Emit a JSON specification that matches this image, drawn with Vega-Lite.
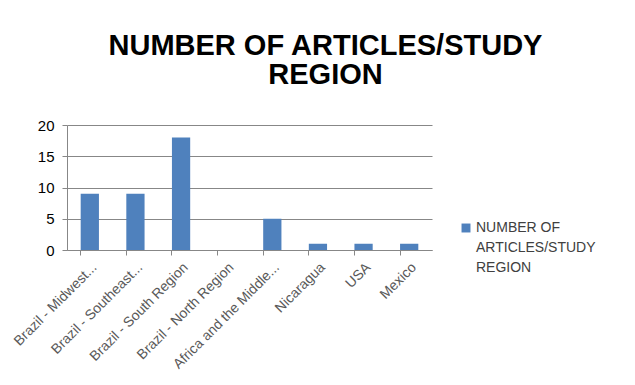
{
  "$schema": "https://vega.github.io/schema/vega-lite/v6.json",
  "autosize": "none",
  "width": 365,
  "height": 125,
  "padding": {"left": 67, "top": 125, "right": 203, "bottom": 135},
  "background": "white",
  "title": {
    "text": ["NUMBER OF ARTICLES/STUDY", "REGION"],
    "font": "Liberation Sans",
    "fontSize": 29,
    "fontWeight": "bold",
    "color": "#000000",
    "anchor": "middle",
    "dx": 76,
    "lineHeight": 29,
    "offset": 28
  },
  "data": {
    "values": [
      {"region": "Brazil - Midwest...", "articles": 9, "series": "NUMBER OF ARTICLES/STUDY REGION"},
      {"region": "Brazil - Southeast...", "articles": 9, "series": "NUMBER OF ARTICLES/STUDY REGION"},
      {"region": "Brazil - South Region", "articles": 18, "series": "NUMBER OF ARTICLES/STUDY REGION"},
      {"region": "Brazil - North Region", "articles": 0, "series": "NUMBER OF ARTICLES/STUDY REGION"},
      {"region": "Africa and the Middle...", "articles": 5, "series": "NUMBER OF ARTICLES/STUDY REGION"},
      {"region": "Nicaragua", "articles": 1, "series": "NUMBER OF ARTICLES/STUDY REGION"},
      {"region": "USA", "articles": 1, "series": "NUMBER OF ARTICLES/STUDY REGION"},
      {"region": "Mexico", "articles": 1, "series": "NUMBER OF ARTICLES/STUDY REGION"}
    ]
  },
  "mark": {"type": "bar", "strokeWidth": 0},
  "encoding": {
    "x": {
      "field": "region",
      "type": "nominal",
      "sort": null,
      "scale": {"paddingInner": 0.6, "paddingOuter": 0.3},
      "axis": {
        "title": null,
        "labelAngle": -45,
        "labelAlign": "right",
        "labelBaseline": "top",
        "labelFont": "Liberation Sans",
        "labelFontSize": 14,
        "labelColor": "#595959",
        "labelPadding": 5,
        "labelLimit": 200,
        "bandPosition": 0,
        "ticks": true,
        "tickSize": 5,
        "tickColor": "#878787",
        "domainColor": "#878787",
        "grid": false,
        "labelFlush": false
      }
    },
    "y": {
      "field": "articles",
      "type": "quantitative",
      "scale": {"domain": [0, 20]},
      "axis": {
        "title": null,
        "values": [0, 5, 10, 15, 20],
        "labelFont": "Liberation Sans",
        "labelFontSize": 15,
        "labelColor": "#000000",
        "labelPadding": 8,
        "tickSize": 5,
        "tickColor": "#878787",
        "domainColor": "#878787",
        "gridColor": "#878787",
        "grid": true
      }
    },
    "color": {
      "field": "series",
      "type": "nominal",
      "scale": {"range": ["#4F81BD"]},
      "legend": {
        "title": null,
        "orient": "none",
        "legendX": 392,
        "legendY": 96,
        "symbolType": "square",
        "symbolSize": 80,
        "symbolStrokeWidth": 0,
        "labelExpr": "['NUMBER OF', 'ARTICLES/STUDY', 'REGION']",
        "labelFont": "Liberation Sans",
        "labelFontSize": 14,
        "labelColor": "#404040",
        "labelBaseline": "top",
        "labelOffset": 3,
        "labelLimit": 200,
        "encode": {"labels": {"update": {"lineHeight": {"value": 20}, "dy": {"value": -7}}}}
      }
    }
  },
  "config": {"view": {"stroke": null}}
}
